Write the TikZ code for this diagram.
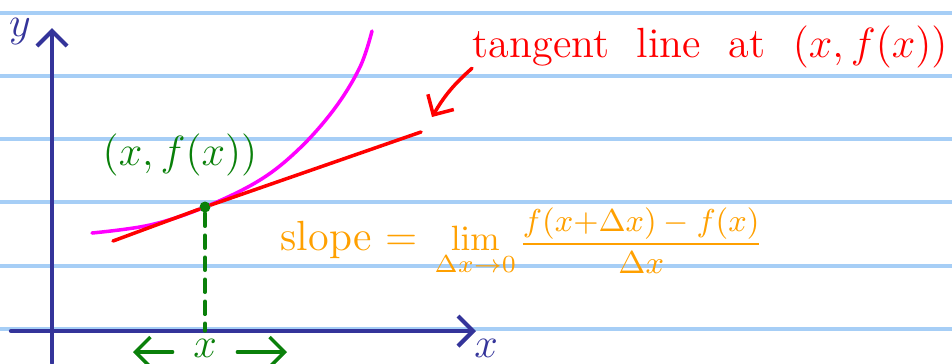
\documentclass[tikz,border=0pt]{standalone}
\usepackage{amsmath}
\usetikzlibrary{positioning, arrows.meta, calc}

\definecolor{axisblue}{HTML}{34349A}
\definecolor{ruleblue}{HTML}{A6CEF6}
\definecolor{curvemag}{HTML}{FF00FF}
\definecolor{tanred}{HTML}{FF0000}
\definecolor{ptgreen}{HTML}{0A800A}
\definecolor{slopeorange}{HTML}{FFA000}

\begin{document}
\begin{tikzpicture}[
    x=0.01cm, y=-0.01cm,
    >={Straight Barb[length=1.5mm, width=3mm]},
    line cap=round,
    rule/.style={
        draw=ruleblue,
        line width=0.9pt
    },
    axis/.style={
        ->,
        draw=axisblue,
        line width=1.2pt
    },
    arrow/.style={
        ->,
        line width=1pt
    },
    label/.style={
        inner sep=0pt,
        font=\large
    },
    slopetext/.style={
        label,
        text=slopeorange,
        font=\normalsize,
        anchor=base west
    },
    point/.style={
        circle,
        fill=ptgreen,
        inner sep=0pt,
        minimum size=1.1mm
    }
]

    \useasboundingbox (0,0) rectangle (952,363);

    % --- Ruled paper ---
    \foreach \y in {13,76,139,202,266,329}
        \draw[rule] (0,\y) -- (952,\y);

    % --- Axes ---
    \coordinate (xstart) at (11,331);
    \coordinate (xend) at (476,331);
    \coordinate (ystart) at (52,363);
    \coordinate (yend) at (52,28);
    \draw[axis] (xstart) -- (xend);
    \draw[axis] (ystart) -- (yend);
    \node[label, text=axisblue] (xname) at (486,348) {$x$};
    \node[label, text=axisblue] (yname) at (20,32) {$y$};

    % --- Curve and tangent ---
    \draw[curvemag, line width=1pt] plot[smooth, tension=0.6] coordinates {
        (92,233) (150,225) (205,207) (260,180) (300,148) (335,108) (360,67) (372,31)};

    \node[point] (pt) at (205,207) {};
    \coordinate (tanlo) at (113,241);
    \coordinate (tanhi) at (421,132);
    \draw[tanred, line width=1pt] (tanlo) -- (pt) -- (tanhi);

    % --- Point label and foot ---
    \node[label, text=ptgreen] (plabel) at (180,155) {$(x, f(x))$};
    \coordinate (foot) at (205,331);
    \draw[ptgreen, line width=1pt, dash pattern=on 1.3mm off 0.9mm] (pt) -- (foot);

    \node[label, text=ptgreen, inner xsep=2mm] (xlab) at (205,348) {$x$};
    \coordinate (xleft) at (133,352);
    \coordinate (xright) at (287,352);
    \draw[arrow, ptgreen] (xlab.west) ++(0,4) -- (xleft);
    \draw[arrow, ptgreen] (xlab.east) ++(0,4) -- (xright);

    % --- Tangent label ---
    \node[label, text=tanred, anchor=base west] (tlabel) at (472,57) {tangent\ \ line\ \ at\ \ $(x, f(x))$};
    \coordinate (tip) at (432,117);
    \draw[arrow, tanred] (tlabel.south west) to[bend right=9] (tip);

    % --- Slope formula ---
    \node[slopetext, font=\large] (slopeword) at (280,250) {slope =};
    \node[slopetext] (limit) at (434,250) {$\displaystyle\lim_{\Delta x \to 0}$};
    \node[slopetext, font=\small] (quot) at (518,252) {$\displaystyle\frac{f(x{+}\Delta x) - f(x)}{\Delta x}$};

\end{tikzpicture}
\end{document}
